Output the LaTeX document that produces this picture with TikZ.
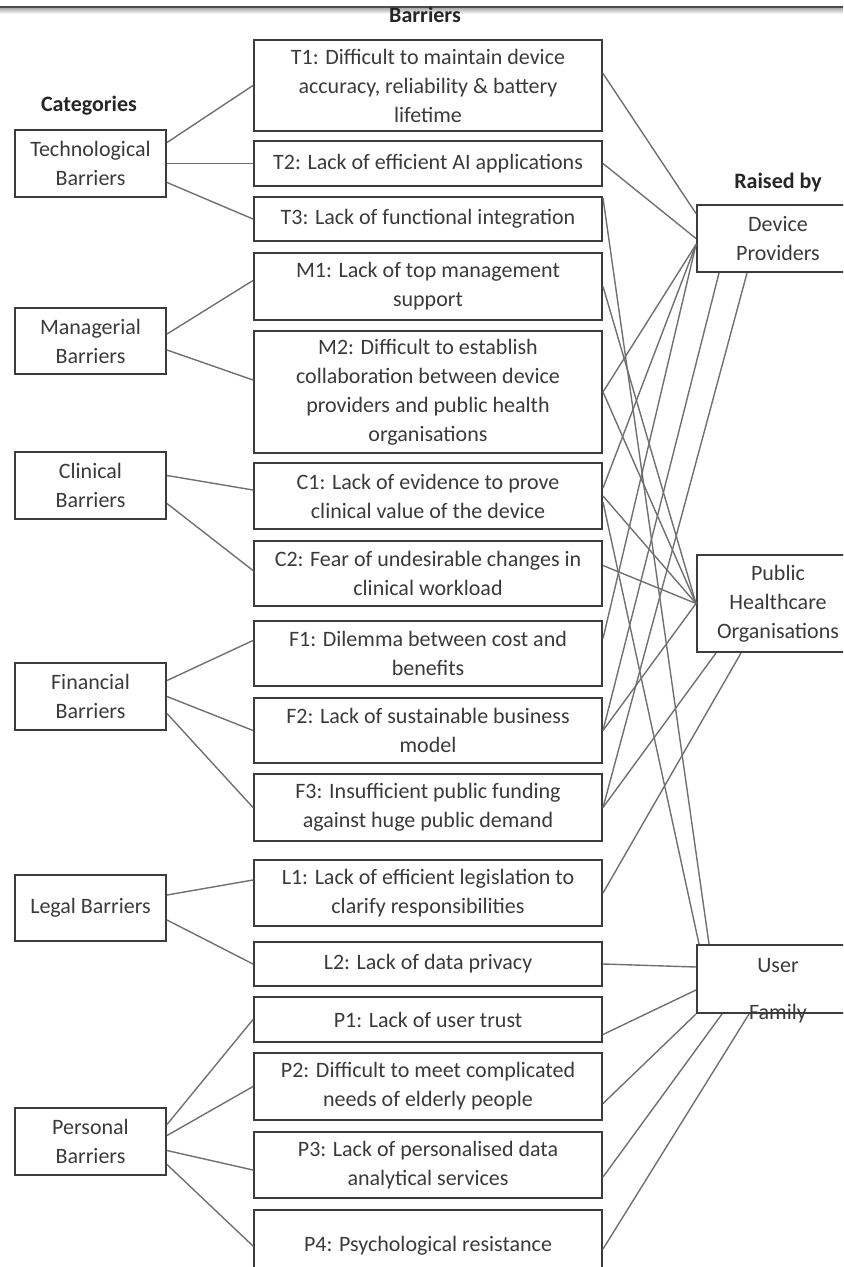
\documentclass[tikz,border=0pt]{standalone}
\usepackage{fontspec}
\setmainfont{Carlito}
\usetikzlibrary{calc}

\definecolor{boxline}{HTML}{3C3C3C}
\definecolor{linkline}{HTML}{707070}
\definecolor{inktext}{HTML}{3A3A3A}

\begin{document}
\begin{tikzpicture}[x=0.5pt,y=-0.5pt,
  every node/.style={font=\fontsize{11}{14.5}\selectfont, text=inktext},
  heading/.style={font=\fontsize{11}{14.5}\selectfont\bfseries, text=black!85},
  catbox/.style={draw=boxline, line width=1pt, minimum width=151*0.5pt, align=center, inner sep=0pt},
  barbox/.style={draw=boxline, line width=1pt, minimum width=348*0.5pt, align=center, inner sep=0pt},
  rolebox/.style={draw=boxline, line width=1pt, minimum width=162*0.5pt, align=center, inner sep=0pt},
  tall/.style={minimum height=#1*0.5pt},
  link/.style={draw=linkline, line width=0.7pt}]

\useasboundingbox (0,0) rectangle (843,1267);
\clip (0,0) rectangle (843,1267);

% Page edge
\shade[top color=gray!75, bottom color=white] (0,7) rectangle (843,14);
\draw[black!70, line width=1pt] (0,7) -- (843,7);

% Headings
\node[heading] (barhead) at (425,15) {Barriers};
\node[heading] (cathead) at (89,106) {Categories};
\node[heading] (rolehead) at (778,183) {Raised by};

% Categories
\node[catbox, tall=67] (tech) at (90.5,163.5) {Technological\\Barriers};
\node[catbox, tall=66] (man) at (90.5,341) {Managerial\\Barriers};
\node[catbox, tall=67] (clin) at (90.5,485.5) {Clinical\\Barriers};
\node[catbox, tall=67] (fin) at (90.5,696.5) {Financial\\Barriers};
\node[catbox, tall=66] (leg) at (90.5,908) {Legal Barriers};
\node[catbox, tall=67] (pers) at (90.5,1141.5) {Personal\\Barriers};

% Barriers
\node[barbox, tall=91] (t1) at (428,85.5) {T1: Difficult to maintain device\\accuracy, reliability \& battery\\lifetime};
\node[barbox, tall=45] (t2) at (428,163.5) {T2: Lack of efficient AI applications};
\node[barbox, tall=44] (t3) at (428,219) {T3: Lack of functional integration};
\node[barbox, tall=67] (m1) at (428,286.5) {M1: Lack of top management\\support};
\node[barbox, tall=122] (m2) at (428,392) {M2: Difficult to establish\\collaboration between device\\providers and public health\\organisations};
\node[barbox, tall=66] (c1) at (428,496) {C1: Lack of evidence to prove\\clinical value of the device};
\node[barbox, tall=65] (c2) at (428,573.5) {C2: Fear of undesirable changes in\\clinical workload};
\node[barbox, tall=65] (f1) at (428,653.5) {F1: Dilemma between cost and\\benefits};
\node[barbox, tall=65] (f2) at (428,730.5) {F2: Lack of sustainable business\\model};
\node[barbox, tall=67] (f3) at (428,807.5) {F3: Insufficient public funding\\against huge public demand};
\node[barbox, tall=66] (l1) at (428,893) {L1: Lack of efficient legislation to\\clarify responsibilities};
\node[barbox, tall=44] (l2) at (428,964) {L2: Lack of data privacy};
\node[barbox, tall=45] (p1) at (428,1019.5) {P1: Lack of user trust};
\node[barbox, tall=67] (p2) at (428,1086.5) {P2: Difficult to meet complicated\\needs of elderly people};
\node[barbox, tall=66] (p3) at (428,1165) {P3: Lack of personalised data\\analytical services};
\node[barbox, tall=72] (p4) at (428,1246) {P4: Psychological resistance};

% Raised by
\node[rolebox, tall=67] (dp) at (778,238.5) {Device\\Providers};
\node[rolebox, tall=97] (pho) at (778,603.5) {Public\\Healthcare\\Organisations};
\node[rolebox, tall=68] (user) at (778,979) {};
\node (usertxt) at ($(user.north)+(0,22)$) {User};
\node (familytxt) at (user.south) {Family};

% Categories to barriers
\draw[link] ($(tech.east)+(0,-21)$) -- (t1.west);
\draw[link] (tech.east) -- (t2.west);
\draw[link] ($(tech.east)+(0,19)$) -- (t3.west);

\draw[link] ($(man.east)+(0,-7)$) -- ($(m1.west)+(0,-6)$);
\draw[link] ($(man.east)+(0,9)$) -- ($(m2.west)+(0,-12)$);

\draw[link] ($(clin.east)+(0,-10)$) -- ($(c1.west)+(0,-6)$);
\draw[link] ($(clin.east)+(0,18)$) -- ($(c2.west)+(0,-3)$);

\draw[link] ($(fin.east)+(0,-16)$) -- ($(f1.west)+(0,-13)$);
\draw[link] (fin.east) -- (f2.west);
\draw[link] ($(fin.east)+(0,17)$) -- (f3.west);

\draw[link] ($(leg.east)+(0,-13)$) -- ($(l1.west)+(0,-13)$);
\draw[link] ($(leg.east)+(0,12)$) -- (l2.west);

\draw[link] ($(pers.east)+(0,-17)$) -- (p1.west);
\draw[link] ($(pers.east)+(0,-6)$) -- (p2.west);
\draw[link] ($(pers.east)+(0,9)$) -- ($(p3.west)+(0,5)$);
\draw[link] ($(pers.east)+(0,23)$) -- (p4.west);

% Barriers to device providers
\draw[link] ($(t1.east)+(0,-12)$) -- ($(dp.west)+(0,-25)$);
\draw[link] (t2.east) -- (dp.west);
\draw[link] (m2.east) -- ($(dp.west)+(0,6)$);
\draw[link] ($(c1.east)+(0,-8)$) -- ($(dp.west)+(0,6)$);
\draw[link] ($(f1.east)+(0,-15)$) -- ($(dp.west)+(0,6)$);
\draw[link] (f2.east) -- ($(dp.south west)+(23,0)$);
\draw[link] (f3.east) -- ($(dp.south west)+(51,0)$);

% Barriers to public healthcare organisations
\draw[link] (m1.east) -- (pho.west);
\draw[link] (m2.east) -- (pho.west);
\draw[link] (c1.east) -- (pho.west);
\draw[link] ($(c2.east)+(0,-8)$) -- (pho.west);
\draw[link] (f2.east) -- (pho.west);
\draw[link] (f3.east) -- ($(pho.south west)+(20,0)$);
\draw[link] (l1.east) -- ($(pho.south west)+(45,0)$);

% Barriers to user / family
\draw[link] ($(t3.east)+(0,-21)$) -- ($(user.north west)+(13,0)$);
\draw[link] ($(c1.east)+(0,6)$) -- ($(user.north west)+(3,0)$);
\draw[link] (l2.east) -- ($(user.west)+(0,-12)$);
\draw[link] ($(p1.east)+(0,15)$) -- ($(user.west)+(0,11)$);
\draw[link] ($(p2.east)+(0,17)$) -- (user.south west);
\draw[link] ($(p3.east)+(0,12)$) -- ($(user.south west)+(26,0)$);
\draw[link] ($(p4.east)+(0,3)$) -- ($(user.south west)+(53,0)$);

\end{tikzpicture}
\end{document}
